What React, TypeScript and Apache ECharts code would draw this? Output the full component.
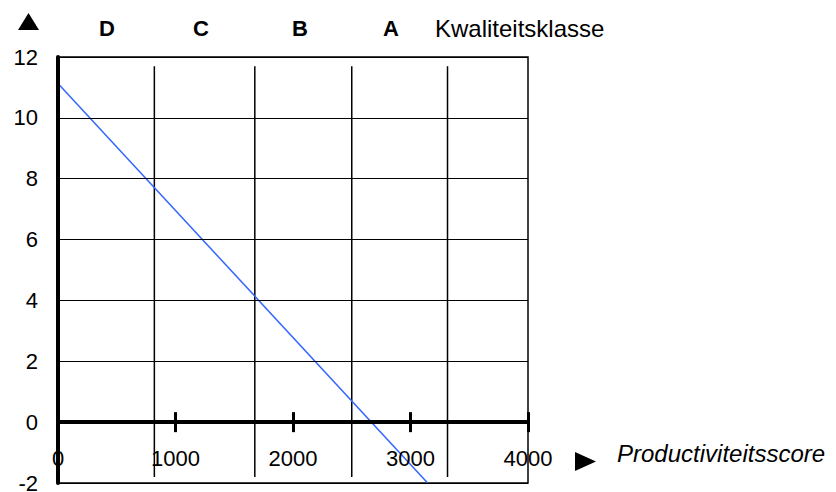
import React, { useEffect, useRef } from "react";
import * as echarts from "echarts";

const xTicks = [0, 1000, 2000, 3000, 4000];
const yMin = -2;
const yMax = 12;
const yInterval = 2;
const classBoundaries = [820, 1675, 2500, 3315];
const boundaryTop = 11.7;
const boundaryBottom = -1.8;
const classLabels = ["D", "C", "B", "A"];
const classLabelX = [107, 201, 300, 391];
const lineX = [0, 3146];
const lineY = [11.13, -2];
const xTitle = "Productiviteitsscore";
const topTitle = "Kwaliteitsklasse";

const FONT = "'Liberation Sans', Arial, Helvetica, sans-serif";

const GRID_TOP = 57;
const GRID_BOTTOM = 9;
const CHART_H = 492;

export default function App() {
  const ref = useRef<HTMLDivElement>(null);
  useEffect(() => {
    if (!ref.current) return;
    const chart = echarts.init(ref.current, null, { renderer: "svg" });
    const gridH = CHART_H - GRID_TOP - GRID_BOTTOM;
    const zeroFromTop = ((yMax - 0) / (yMax - yMin)) * gridH;
    const zeroFromBottom = gridH - zeroFromTop;
    const boundarySeries = classBoundaries.map((b, i) => ({
      type: "line",
      name: "grens" + i,
      xAxisIndex: 0,
      data: [
        [b, boundaryTop],
        [b, boundaryBottom],
      ],
      symbol: "none",
      lineStyle: { color: "#000", width: 1.5 },
      z: 3,
    }));
    const option: any = {
      animation: false,
      grid: {
        left: 58,
        right: 308,
        top: GRID_TOP,
        bottom: GRID_BOTTOM,
        show: true,
        borderColor: "#000",
        borderWidth: 1.5,
        backgroundColor: "transparent",
        containLabel: false,
        outerBoundsMode: "none",
      },
      xAxis: [
        {
          type: "value",
          position: "bottom",
          offset: -zeroFromBottom,
          min: xTicks[0],
          max: xTicks[xTicks.length - 1],
          interval: 1000,
          axisLine: { onZero: false, lineStyle: { color: "#000", width: 4 } },
          axisTick: { show: true, inside: false, length: 10, lineStyle: { color: "#000", width: 3 } },
          axisLabel: {
            color: "#000",
            fontSize: 22,
            fontFamily: FONT,
            margin: 25,
            formatter: (v: number) => String(v),
          },
          splitLine: { show: false },
          z: 5,
        },
        {
          type: "value",
          position: "top",
          offset: -zeroFromTop,
          min: xTicks[0],
          max: xTicks[xTicks.length - 1],
          interval: 1000,
          axisLine: { onZero: false, lineStyle: { color: "#000", width: 4 } },
          axisTick: { show: true, inside: false, length: 10, lineStyle: { color: "#000", width: 3 } },
          axisLabel: { show: false },
          splitLine: { show: false },
          z: 5,
        },
      ],
      yAxis: {
        type: "value",
        min: yMin,
        max: yMax,
        interval: yInterval,
        axisLine: { show: true, onZero: false, lineStyle: { color: "#000", width: 4 } },
        axisTick: { show: false },
        axisLabel: { color: "#000", fontSize: 22, lineHeight: 16, fontFamily: FONT, margin: 20 },
        splitLine: { show: true, lineStyle: { color: "#000", width: 1 } },
        z: 5,
      },
      series: [
        ...boundarySeries,
        {
          type: "line",
          name: "lijn",
          data: lineX.map((x, i) => [x, lineY[i]]),
          symbol: "none",
          lineStyle: { color: "#3366ff", width: 1.5 },
          z: 4,
        },
      ],
      graphic: [
        ...classLabels.map((t, i) => ({
          type: "text",
          x: classLabelX[i],
          y: 28,
          style: {
            text: t,
            fill: "#000",
            font: `bold 22px ${FONT}`,
            align: "center",
            verticalAlign: "middle",
          },
        })),
        {
          type: "text",
          x: 435,
          y: 28,
          style: {
            text: topTitle,
            fill: "#000",
            font: `24px ${FONT}`,
            align: "left",
            verticalAlign: "middle",
          },
        },
        {
          type: "text",
          x: 617,
          y: 453,
          style: {
            text: xTitle,
            fill: "#000",
            font: `italic 24px ${FONT}`,
            align: "left",
            verticalAlign: "middle",
          },
        },
        {
          type: "polygon",
          shape: { points: [[18, 30], [39, 30], [28.5, 13]] },
          style: { fill: "#000" },
        },
        {
          type: "polygon",
          shape: { points: [[575, 452], [596, 461.5], [575, 471]] },
          style: { fill: "#000" },
        },
      ],
    };
    chart.setOption(option);
    return () => chart.dispose();
  }, []);
  return (
    <div
      ref={ref}
      style={{ position: "fixed", left: 0, top: 0, width: 836, height: 492, background: "#fff" }}
    />
  );
}
